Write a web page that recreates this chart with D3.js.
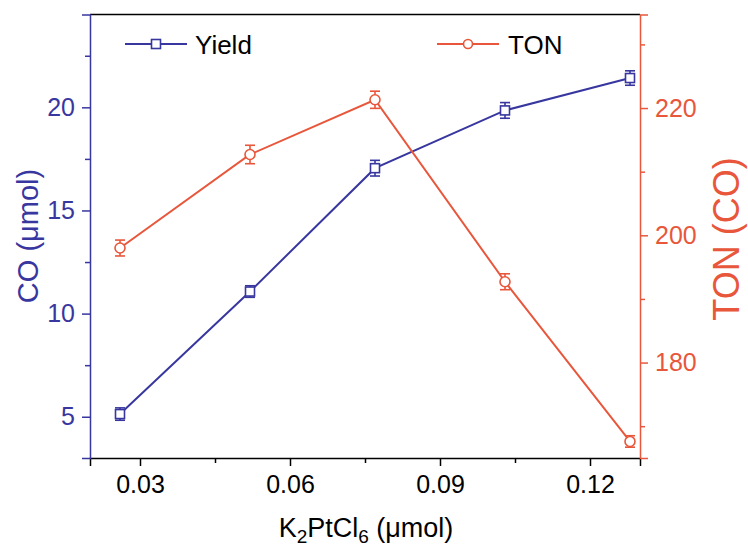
<!DOCTYPE html>
<html>
<head>
<meta charset="utf-8">
<script src="https://cdn.jsdelivr.net/npm/d3@7"></script>
<style>
  html, body { margin: 0; padding: 0; background: #fff; }
  svg { display: block; font-family: "Liberation Sans", Arial, sans-serif; }
</style>
</head>
<body>
<svg id="chart" width="748" height="556"></svg>
<script>
// K2PtCl6 loading (µmol)
const loading = [0.026, 0.052, 0.077, 0.103, 0.128];
// CO yield (µmol) and its error
const yieldCO = [5.13, 11.07, 17.05, 19.85, 21.42];
const yieldErr = [0.30, 0.28, 0.38, 0.38, 0.35];
// turnover number for CO and its error
const ton = [198.0, 212.7, 221.3, 192.7, 167.6];
const tonErr = [1.25, 1.45, 1.35, 1.25, 0.9];

const xTicks = [0.03, 0.06, 0.09, 0.12];
const xMinor = [0.045, 0.075, 0.105];
const yTicks = [5, 10, 15, 20];
const yMinor = [7.5, 12.5, 17.5, 22.5];
const tTicks = [180, 200, 220];
const tMinor = [170, 190, 210, 230];

const BLUE = "#38379f";
const ORANGE = "#e8573b";

const svg = d3.select("#chart");
const m = { left: 90, right: 640, top: 14.5, bottom: 458 };

const x = d3.scaleLinear().domain([0.02, 0.13]).range([m.left, m.right]);
const y = d3.scaleLinear().domain([3, 24.5]).range([m.bottom, m.top]);
const yT = d3.scaleLinear().domain([165, 234.7]).range([m.bottom, m.top]);

// frame: top edge in black
svg.append("line").attr("x1", m.left).attr("x2", m.right).attr("y1", m.top).attr("y2", m.top)
  .attr("stroke", "#000").attr("stroke-width", 1.5);

function styleAxis(g, color, size) {
  g.select(".domain").attr("stroke", color).attr("stroke-width", 1.5);
  g.selectAll(".tick line").attr("stroke", color).attr("stroke-width", 1.5);
  g.selectAll(".tick text").attr("fill", color).attr("font-size", size)
    .attr("font-family", "Liberation Sans, Arial, sans-serif");
}

// bottom axis
const gx = svg.append("g").attr("transform", `translate(0,${m.bottom})`)
  .call(d3.axisBottom(x).tickValues(xTicks).tickFormat(d3.format(".2f")).tickSizeOuter(0).tickSize(8).tickPadding(9));
styleAxis(gx, "#000", 25);
svg.append("g").attr("transform", `translate(0,${m.bottom})`)
  .call(d3.axisBottom(x).tickValues(xMinor).tickFormat("").tickSizeOuter(0).tickSize(5))
  .call(g => { g.select(".domain").remove(); g.selectAll("line").attr("stroke", "#000").attr("stroke-width", 1.5); });

// left axis (CO yield)
const gy = svg.append("g").attr("transform", `translate(${m.left},0)`)
  .call(d3.axisLeft(y).tickValues(yTicks).tickSizeOuter(0).tickSize(8).tickPadding(7));
styleAxis(gy, BLUE, 25);
svg.append("g").attr("transform", `translate(${m.left},0)`)
  .call(d3.axisLeft(y).tickValues(yMinor).tickFormat("").tickSizeOuter(0).tickSize(5))
  .call(g => { g.select(".domain").remove(); g.selectAll("line").attr("stroke", BLUE).attr("stroke-width", 1.5); });

// right axis (TON)
const gt = svg.append("g").attr("transform", `translate(${m.right},0)`)
  .call(d3.axisRight(yT).tickValues(tTicks).tickSizeOuter(0).tickSize(8).tickPadding(7));
styleAxis(gt, ORANGE, 25);
svg.append("g").attr("transform", `translate(${m.right},0)`)
  .call(d3.axisRight(yT).tickValues(tMinor).tickFormat("").tickSizeOuter(0).tickSize(5))
  .call(g => { g.select(".domain").remove(); g.selectAll("line").attr("stroke", ORANGE).attr("stroke-width", 1.5); });

// axis titles
svg.append("text").attr("transform", "translate(38,236) rotate(-90)")
  .attr("text-anchor", "middle").attr("fill", BLUE).attr("font-size", 29).text("CO (μmol)");
svg.append("text").attr("transform", "translate(739,239) rotate(-90)")
  .attr("text-anchor", "middle").attr("fill", ORANGE).attr("font-size", 36).text("TON (CO)");
const xt = svg.append("text").attr("x", 366).attr("y", 537).attr("text-anchor", "middle")
  .attr("fill", "#000").attr("font-size", 27);
xt.append("tspan").text("K");
xt.append("tspan").attr("font-size", 19).attr("dy", 6).text("2");
xt.append("tspan").attr("dy", -6).text("PtCl");
xt.append("tspan").attr("font-size", 19).attr("dy", 6).text("6");
xt.append("tspan").attr("dy", -6).text(" (μmol)");

// one series: connecting line, error bars with caps, open markers
function drawSeries(vals, errs, scale, color, marker) {
  const pts = loading.map((d, i) => ({ x: d, v: vals[i], e: errs[i] }));
  svg.append("path").datum(pts)
    .attr("fill", "none").attr("stroke", color).attr("stroke-width", 2)
    .attr("d", d3.line().x(d => x(d.x)).y(d => scale(d.v)));
  const g = svg.append("g").attr("stroke", color).attr("stroke-width", 1.6).attr("fill", "none");
  pts.forEach(d => {
    const cx = x(d.x), top = scale(d.v + d.e), bot = scale(d.v - d.e);
    g.append("line").attr("x1", cx).attr("x2", cx).attr("y1", top).attr("y2", bot);
    g.append("line").attr("x1", cx - 5).attr("x2", cx + 5).attr("y1", top).attr("y2", top);
    g.append("line").attr("x1", cx - 5).attr("x2", cx + 5).attr("y1", bot).attr("y2", bot);
    if (marker === "square") {
      g.append("rect").attr("x", cx - 4.5).attr("y", scale(d.v) - 4.5).attr("width", 9).attr("height", 9)
        .attr("fill", "#fff");
    } else {
      g.append("circle").attr("cx", cx).attr("cy", scale(d.v)).attr("r", 5).attr("fill", "#fff");
    }
  });
}

drawSeries(yieldCO, yieldErr, y, BLUE, "square");
drawSeries(ton, tonErr, yT, ORANGE, "circle");

// legend
const legend = [
  { label: "Yield", color: BLUE, marker: "square", x0: 125, x1: 187, tx: 195 },
  { label: "TON", color: ORANGE, marker: "circle", x0: 437, x1: 499, tx: 508 }
];
legend.forEach(l => {
  const ly = 44;
  svg.append("line").attr("x1", l.x0).attr("x2", l.x1).attr("y1", ly).attr("y2", ly)
    .attr("stroke", l.color).attr("stroke-width", 2);
  const mx = (l.x0 + l.x1) / 2;
  if (l.marker === "square") {
    svg.append("rect").attr("x", mx - 4.5).attr("y", ly - 4.5).attr("width", 9).attr("height", 9)
      .attr("fill", "#fff").attr("stroke", l.color).attr("stroke-width", 1.6);
  } else {
    svg.append("circle").attr("cx", mx).attr("cy", ly).attr("r", 4.5)
      .attr("fill", "#fff").attr("stroke", l.color).attr("stroke-width", 1.6);
  }
  svg.append("text").attr("x", l.tx).attr("y", ly + 9.5).attr("fill", "#000").attr("font-size", 26).text(l.label);
});
</script>
</body>
</html>
